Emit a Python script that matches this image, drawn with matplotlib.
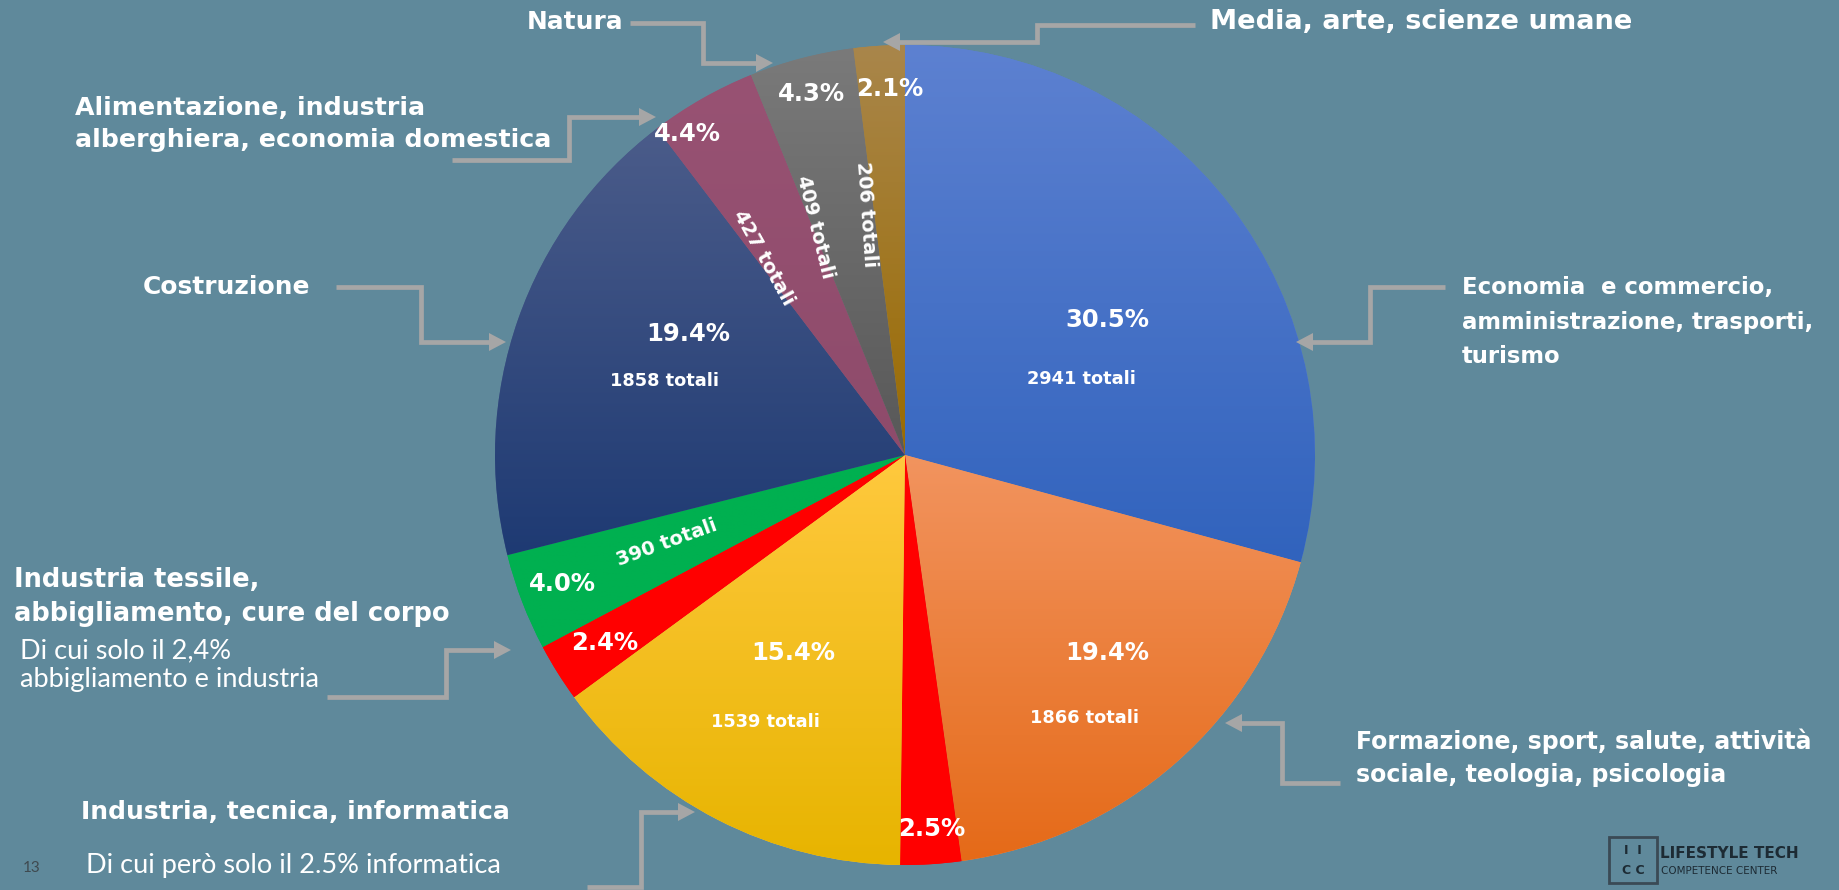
import numpy as np
import matplotlib
matplotlib.use("Agg")
import matplotlib.pyplot as plt
from matplotlib.patches import Polygon, Rectangle
from matplotlib.colors import to_rgb

# ---------------- data ----------------
categories = [
    "Economia e commercio, amministrazione, trasporti, turismo",
    "Formazione, sport, salute, attività sociale, teologia, psicologia",
    "Informatica",
    "Industria, tecnica",
    "Abbigliamento e industria",
    "Industria tessile, cure del corpo",
    "Costruzione",
    "Alimentazione, industria alberghiera, economia domestica",
    "Natura",
    "Media, arte, scienze umane",
]
shares = [30.5, 19.4, 2.5, 15.4, 2.4, 4.0, 19.4, 4.4, 4.3, 2.1]
totals = [2941, 1866, None, 1539, None, 390, 1858, 427, 409, 206]
top_colors = ["#5d81d1", "#f2945f", "#ff0000", "#ffc93e", "#ff0000",
              "#00b050", "#4b5c8a", "#985273", "#7a7a7a", "#a9864b"]
bottom_colors = ["#3163bd", "#e56a18", "#ff0000", "#e7b400", "#ff0000",
                 "#00b050", "#1e3a73", "#8e4b6b", "#585858", "#9a6b00"]

outer_labels = [
    "Natura",
    "Media, arte, scienze umane",
    "Alimentazione, industria\nalberghiera, economia domestica",
    "Costruzione",
    "Economia  e commercio,\namministrazione, trasporti,\nturismo",
    "Formazione, sport, salute, attività\nsociale, teologia, psicologia",
    "Industria tessile,\nabbigliamento, cure del corpo",
    "Industria, tecnica, informatica",
]
note_labels = [
    "Di cui solo il 2,4%\nabbigliamento e industria",
    "Di cui però solo il 2.5% informatica",
]

# ---------------- layout ----------------
W, H = 1839, 890
BG = "#5f899b"
ARROW = "#a6a6a6"
WHITE = "white"
BOLD = ["DejaVu Sans"]
LIGHT = ["Lato", "DejaVu Sans"]


def Y(y):
    return H - y


fig = plt.figure(figsize=(W / 100, H / 100), dpi=100)
fig.patch.set_facecolor(BG)
ax = fig.add_axes([0, 0, 1, 1])
ax.set_facecolor(BG)

wedges, _ = ax.pie(shares, colors=top_colors, startangle=90, counterclock=False,
                   center=(905, Y(455)), radius=410,
                   wedgeprops=dict(linewidth=0))

# vertical gradient inside each slice
t = np.linspace(0, 1, 256)[:, None]
for w, c0, c1 in zip(wedges, top_colors, bottom_colors):
    ext = w.get_path().get_extents()
    a = np.array(to_rgb(c0))
    b = np.array(to_rgb(c1))
    img = (a * (1 - t) + b * t)[:, None, :]
    im = ax.imshow(img, extent=(ext.x0, ext.x1, ext.y0, ext.y1), origin="upper",
                   aspect="auto", interpolation="bilinear", zorder=w.get_zorder() + 0.01)
    im.set_clip_path(w)

ax.set_xlim(0, W)
ax.set_ylim(0, H)
ax.set_aspect("equal")
ax.axis("off")

# percentage labels (centre positions, px) and total labels
pct_pos = [(1107, 320), (1107, 653), (932, 829), (793, 653), (605, 643),
           (562, 584), (688, 334), (687, 134), (812, 94), (890, 89)]
tot_pos = [(1081, 379), (1085, 718), None, (765, 722), None,
           (667, 543), (665, 381), (764, 258), (815, 227), (866, 214)]
tot_rot = [0, 0, 0, 0, 0, 20, 0, -61, -76, -86]
tot_size = [12.8, 12.8, 0, 12.8, 0, 14, 12.8, 14, 14, 14]

for i, s in enumerate(shares):
    x, y = pct_pos[i]
    ax.text(x, Y(y), f"{s:.1f}%", color=WHITE, fontsize=17.5, fontweight="bold",
            family=BOLD, ha="center", va="center", zorder=10)
    if totals[i] is not None:
        x, y = tot_pos[i]
        ax.text(x, Y(y), f"{totals[i]} totali", color=WHITE, fontsize=tot_size[i],
                fontweight="bold", family=BOLD, ha="center", va="center",
                rotation=tot_rot[i], rotation_mode="anchor", zorder=10)

# outer labels (left x, centre y, size, linespacing)
outer_pos = [(527, 22), (1210, 22), (75, 124), (143, 287), (1462, 322),
             (1356, 758), (14, 597), (81, 812)]
outer_size = [17.9, 19.6, 18.2, 17.9, 16.4, 17.0, 18.5, 18.0]
outer_ls = [1.4, 1.4, 1.44, 1.4, 1.63, 1.45, 1.42, 1.4]
for txt, (x, y), fs, ls in zip(outer_labels, outer_pos, outer_size, outer_ls):
    ax.text(x, Y(y), txt, color=WHITE, fontsize=fs, fontweight="bold", family=BOLD,
            ha="left", va="center", linespacing=ls, zorder=10)

note_pos = [(20, 665), (86, 866)]
for txt, (x, y) in zip(note_labels, note_pos):
    ax.text(x, Y(y), txt, color=WHITE, fontsize=19.5, fontweight="normal", family=LIGHT,
            ha="left", va="center", linespacing=1.2, zorder=10)

# elbow arrows
arrow_paths = [
    [(630, 23), (703, 23), (703, 63), (773, 63)],
    [(1195, 25), (1037, 25), (1037, 42), (883, 42)],
    [(452, 160), (569, 160), (569, 117), (656, 117)],
    [(336, 287), (421, 287), (421, 342), (506, 342)],
    [(1445, 287), (1370, 287), (1370, 342), (1296, 342)],
    [(1340, 783), (1282, 783), (1282, 723), (1225, 723)],
    [(327, 697), (446, 697), (446, 650), (511, 650)],
    [(587, 887), (641, 887), (641, 812), (695, 812)],
]


def elbow(points, head_len=17, head_half=9):
    xs = [p[0] for p in points]
    ys = [Y(p[1]) for p in points]
    x1, y1, x2, y2 = xs[-2], ys[-2], xs[-1], ys[-1]
    d = np.hypot(x2 - x1, y2 - y1)
    ux, uy = (x2 - x1) / d, (y2 - y1) / d
    bx, by = x2 - ux * head_len, y2 - uy * head_len
    ax.plot(xs[:-1] + [bx + ux], ys[:-1] + [by + uy], color=ARROW, lw=3.4,
            solid_joinstyle="miter", solid_capstyle="butt", zorder=8)
    ax.add_patch(Polygon([(x2, y2), (bx - uy * head_half, by + ux * head_half),
                          (bx + uy * head_half, by - ux * head_half)],
                         closed=True, facecolor=ARROW, edgecolor="none", zorder=8))


for p in arrow_paths:
    elbow(p)

# page number
ax.text(23, Y(868), "13", color="#3f4a50", fontsize=11, family=LIGHT, ha="left", va="center")

# logo
LOGO = "#1d2b34"
ax.add_patch(Rectangle((1609, Y(883)), 48, 46, facecolor="none", edgecolor="#3a4a55", lw=2))
ax.text(1633, Y(850), "I  I", color=LOGO, fontsize=9, fontweight="bold", family=BOLD,
        ha="center", va="center")
ax.text(1633, Y(870), "C C", color=LOGO, fontsize=9, fontweight="bold", family=BOLD,
        ha="center", va="center")
ax.text(1660, Y(853), "LIFESTYLE TECH", color=LOGO, fontsize=11, fontweight="bold",
        family=BOLD, ha="left", va="center")
ax.text(1661, Y(871), "COMPETENCE CENTER", color=LOGO, fontsize=7.5, family=BOLD,
        ha="left", va="center")

fig.savefig("out.png", dpi=100, facecolor=BG)
